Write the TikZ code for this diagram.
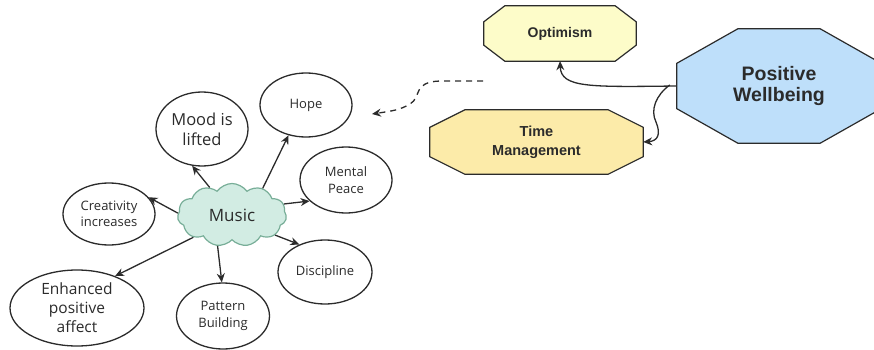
\documentclass[tikz,border=0pt]{standalone}
\usepackage{fontspec}
\setmainfont{Open Sans}
\newfontfamily\headfont{Liberation Sans}
\usetikzlibrary{shapes.geometric,shapes.symbols,arrows.meta,backgrounds}
\definecolor{ink}{HTML}{2B2B2B}
\definecolor{optfill}{HTML}{FDFCC9}
\definecolor{timefill}{HTML}{FCEBA9}
\definecolor{wellfill}{HTML}{BEDFFA}
\definecolor{cloudfill}{HTML}{D2ECE3}
\definecolor{clouddraw}{HTML}{78AE98}
% octagon outline around a rectangular node: name, corner cut x, corner cut y, style
\newcommand\octoframe[4]{%
  \begin{pgfonlayer}{background}
  \path[#4] ([xshift=#2]#1.north west) -- ([xshift=-#2]#1.north east)
    -- ([yshift=-#3]#1.north east) -- ([yshift=#3]#1.south east)
    -- ([xshift=-#2]#1.south east) -- ([xshift=#2]#1.south west)
    -- ([yshift=#3]#1.south west) -- ([yshift=-#3]#1.north west) -- cycle;
  \end{pgfonlayer}}
\begin{document}
\begin{tikzpicture}[x=1pt,y=-1pt,
  bubble/.style={ellipse,draw=ink,line width=1.3pt,fill=white,inner sep=0pt,
    align=center,text=ink},
  smalltxt/.style={font=\fontsize{13}{16.5}\selectfont},
  bigtxt/.style={font=\fontsize{16.5}{20}\selectfont},
  octo/.style={rectangle,inner sep=0pt,align=center,text=ink},
  octoline/.style={draw=ink,line width=1.2pt,line join=miter},
  link/.style={draw=ink,line width=1.3pt,-{Stealth[length=9pt,width=8pt]}},
  dashlink/.style={draw=ink,line width=1.3pt,dashed,dash pattern=on 6pt off 5pt,
    -{Stealth[length=9pt,width=8pt]}}]
\useasboundingbox (0,0) rectangle (874,350);

% octagonal headings
\node[octo,minimum width=152pt,minimum height=55pt,
  font=\headfont\bfseries\fontsize{14}{18}\selectfont] (opt) at (560,33.5) {Optimism};
\octoframe{opt}{21pt}{16pt}{octoline,fill=optfill}
\node[octo,minimum width=213pt,minimum height=64pt,
  font=\headfont\bfseries\fontsize{14.5}{19}\selectfont] (time) at (536.5,142) {Time\\Management};
\octoframe{time}{35pt}{17.5pt}{octoline,fill=timefill}
\node[octo,minimum width=204pt,minimum height=114pt,
  font=\headfont\bfseries\fontsize{19.5}{21}\selectfont] (well) at (779,86) {Positive\\Wellbeing};
\octoframe{well}{61pt}{34.5pt}{octoline,fill=wellfill}

% central cloud
\node[cloud,cloud puffs=11,cloud puff arc=110,aspect=1.8,draw=clouddraw,
  fill=cloudfill,line width=1.2pt,minimum width=109pt,minimum height=63pt,
  inner sep=0pt,text=ink,font=\fontsize{17}{20}\selectfont] (music) at (232,215) {Music};

% surrounding effects
\node[bubble,bigtxt,minimum width=92pt,minimum height=74pt] (mood) at (202,129) {Mood is\\lifted};
\node[bubble,smalltxt,minimum width=92pt,minimum height=64pt] (hope) at (306,105) {Hope};
\node[bubble,smalltxt,minimum width=92pt,minimum height=66pt] (peace) at (346,180) {Mental\\Peace};
\node[bubble,smalltxt,minimum width=92pt,minimum height=62pt] (creat) at (109,214) {Creativity\\increases};
\node[bubble,smalltxt,minimum width=94pt,minimum height=64pt] (disc) at (325,272) {Discipline};
\node[bubble,font=\fontsize{15.5}{19}\selectfont,minimum width=134pt,minimum height=76pt] (affect) at (77,308) {Enhanced\\positive\\affect};
\node[bubble,smalltxt,minimum width=93pt,minimum height=66pt] (pattern) at (223,316) {Pattern\\Building};

% spokes from the cloud
\draw[link] (music.129) -- (mood.-105);
\draw[link] (music.41) -- (hope.-120);
\draw[link] (music.12) -- (peace.-150);
\draw[link] (music.178) -- (creat.23);
\draw[link] (music.-25) -- (disc.133);
\draw[link] (music.-115) -- (pattern.92);
\draw[link] (music.-150) -- (affect.40);

% links from the wellbeing octagon
\draw[link] (well.west) .. controls (590,87) and (561,88) .. (opt.south);
\draw[link] ([yshift=1pt]well.west) ++(-7,0) .. controls (656,95) and (650,110) .. (656,122)
  .. controls (661,134) and (658,141) .. (time.east);

% loose dashed pointer
\coordinate (dashstart) at (483,81);
\coordinate (dashend) at (372,114);
\draw[dashlink] (dashstart) -- (440,81) .. controls (412,82) and (422,97) .. (410,104)
  .. controls (400,110) and (392,111) .. (dashend);
\end{tikzpicture}
\end{document}
